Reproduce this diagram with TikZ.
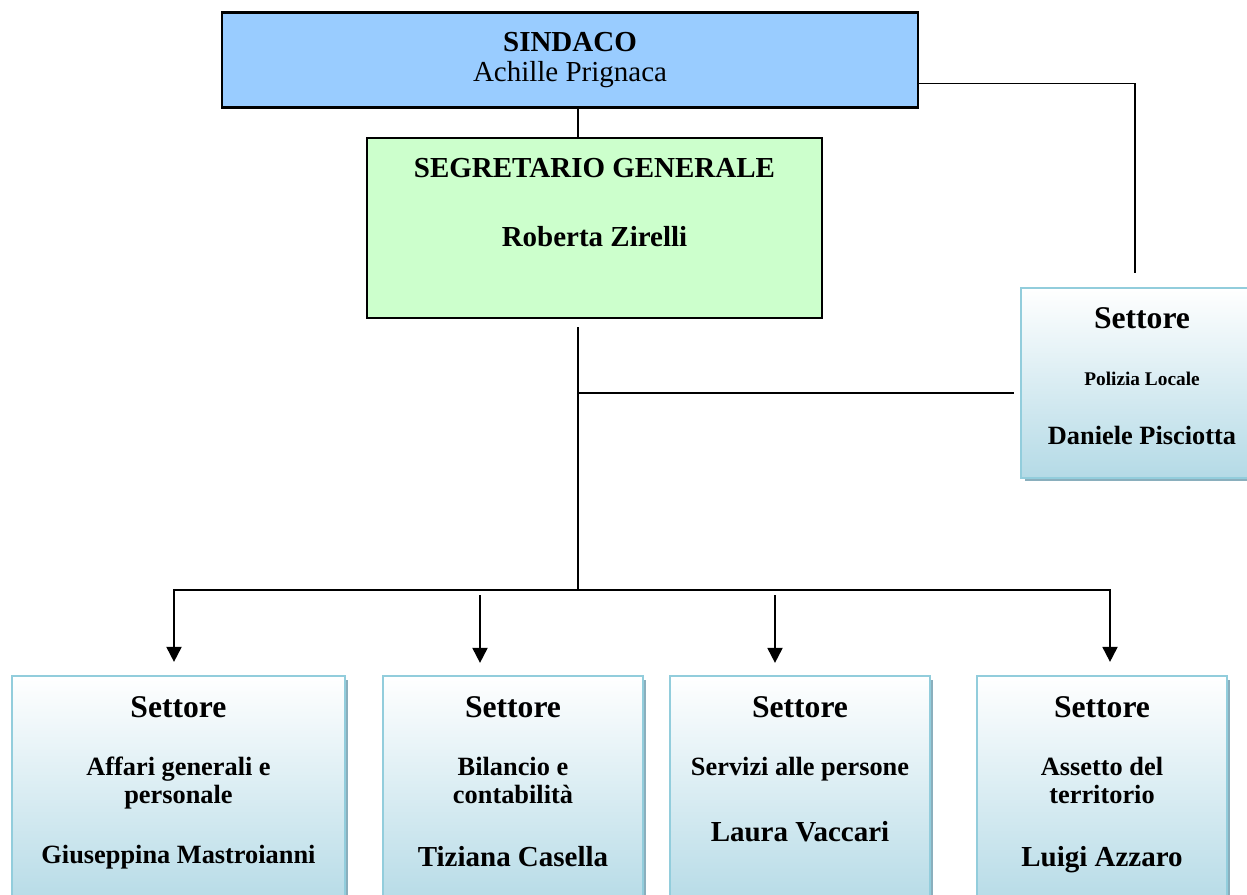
\documentclass[tikz,border=0pt]{standalone}
\usepackage{fontspec}
\setmainfont{Liberation Serif}
\usetikzlibrary{positioning,arrows.meta,shadows}
\definecolor{sindacoblue}{HTML}{99CCFF}
\definecolor{segrgreen}{HTML}{CCFFCC}
\definecolor{settoreblue}{HTML}{B4DAE6}
\definecolor{settoreline}{HTML}{92CDDC}
\definecolor{settoreshadow}{HTML}{8AAFBD}

\begin{document}
\begin{tikzpicture}[%
    x=0.02cm, y=-0.02cm,
    line width=1.1pt,
    >={Triangle[length=0.3cm,width=0.3cm]},
    sindacobox/.style={%
      draw,
      line width=1.3pt,
      fill=sindacoblue,
      minimum width=13.92cm,
      minimum height=1.9cm,
      align=center,
      font=\fontsize{16.5}{17}\selectfont},
    segrbox/.style={%
      draw,
      line width=1.3pt,
      fill=segrgreen,
      inner sep=0pt,
      font=\bfseries},
    settore/.style={%
      draw=settoreline,
      line width=1.3pt,
      top color=white,
      bottom color=settoreblue,
      inner sep=0pt,
      font=\bfseries,
      general shadow={fill=settoreshadow, shadow xshift=0.07cm, shadow yshift=-0.07cm}}
    ]
    \useasboundingbox (0,0) rectangle (1247,894);
    \clip (0,0) rectangle (1247,894);

    \node[sindacobox] (sindaco) at (570,60) {\textbf{SINDACO}\\Achille Prignaca};
    \node[segrbox] (segr) at (594.5,228) {\parbox[c][3.6cm][t]{9.1cm}{\centering
      \fontsize{16.5}{16}\selectfont\rule{0pt}{22.5pt}SEGRETARIO GENERALE\\[23.5pt]Roberta Zirelli}};
    \node[settore] (polizia) at (1142,383) {\parbox[c][3.8cm][t]{4.84cm}{\centering
      \fontsize{18}{16}\selectfont\rule{0pt}{23pt}Settore\\[16.3pt]
      {\fontsize{11}{12}\selectfont Polizia Locale}\\[18pt]
      {\fontsize{15}{16}\selectfont Daniele Pisciotta}}};

    % settori
    \node[settore] (affari) at (178.5,793) {\parbox[c][4.68cm][t]{6.66cm}{\centering
      \fontsize{18}{16}\selectfont\rule{0pt}{23.5pt}Settore\\[17pt]
      {\fontsize{15}{16}\selectfont Affari generali e\\personale}\\[18pt]
      {\fontsize{15}{16}\selectfont Giuseppina Mastroianni}}};
    \node[settore] (bilancio) at (513,793) {\parbox[c][4.68cm][t]{5.2cm}{\centering
      \fontsize{18}{16}\selectfont\rule{0pt}{23.5pt}Settore\\[17pt]
      {\fontsize{15}{16}\selectfont Bilancio e\\contabilità}\\[19.7pt]
      {\fontsize{16.5}{16}\selectfont Tiziana Casella}}};
    \node[settore] (servizi) at (800,793) {\parbox[c][4.68cm][t]{5.2cm}{\centering
      \fontsize{18}{16}\selectfont\rule{0pt}{23.5pt}Settore\\[17pt]
      {\fontsize{15}{16}\selectfont Servizi alle persone}\\[21.7pt]
      {\fontsize{16.5}{16}\selectfont Laura Vaccari}}};
    \node[settore] (assetto) at (1102,793) {\parbox[c][4.68cm][t]{5.0cm}{\centering
      \fontsize{18}{16}\selectfont\rule{0pt}{23.5pt}Settore\\[17pt]
      {\fontsize{15}{16}\selectfont Assetto del\\territorio}\\[19.7pt]
      {\fontsize{16.5}{16}\selectfont Luigi Azzaro}}};

    \coordinate (trunk) at (578,327);
    \coordinate (split) at (578,590);
    \coordinate (polcap) at (1135,273);
    \coordinate (a1) at (174,590);
    \coordinate (a2) at (480,595);
    \coordinate (a3) at (775,595);
    \coordinate (a4) at (1110,590);

    \draw (sindaco.south -| trunk) -- (segr.north -| trunk);
    \draw ([yshift=-0.47cm]sindaco.east) -| (polcap);
    \draw (trunk) -- (split);
    \draw ([xshift=-0.12cm,yshift=-0.2cm]polizia.west) -- (trunk |- 0,393);
    \draw[<->, shorten <=0.26cm, shorten >=0.26cm]
      (affari.north -| a1) -- (a1) -- (a4) -- (assetto.north -| a4);
    \draw[->, shorten >=0.24cm] (a2) -- (bilancio.north -| a2);
    \draw[->, shorten >=0.24cm] (a3) -- (servizi.north -| a3);
\end{tikzpicture}
\end{document}
